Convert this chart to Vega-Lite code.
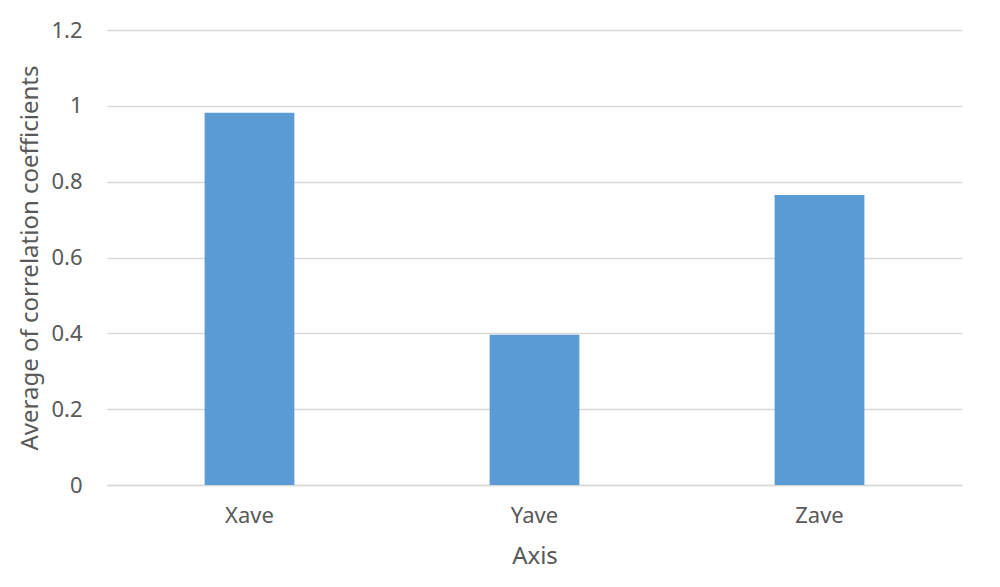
{
  "$schema": "https://vega.github.io/schema/vega-lite/v6.json",
  "width": 855,
  "height": 455,
  "autosize": "none",
  "padding": {"left": 107, "top": 30, "right": 38, "bottom": 102},
  "background": "white",
  "data": {
    "values": [
      {"axis": "Xave", "avg": 0.982},
      {"axis": "Yave", "avg": 0.396},
      {"axis": "Zave", "avg": 0.765}
    ]
  },
  "mark": {"type": "bar", "color": "#5b9bd5"},
  "encoding": {
    "x": {
      "field": "axis",
      "type": "nominal",
      "title": "Axis",
      "scale": {"paddingInner": 0.685, "paddingOuter": 0.3425},
      "axis": {
        "labelAngle": 0,
        "labelPadding": 20,
        "titlePadding": 18,
        "ticks": false,
        "domainColor": "#d9d9d9",
        "domainWidth": 1.5
      }
    },
    "y": {
      "field": "avg",
      "type": "quantitative",
      "title": "Average of correlation coefficients",
      "scale": {"domain": [0, 1.2]},
      "axis": {
        "values": [0, 0.2, 0.4, 0.6, 0.8, 1, 1.2],
        "format": "~g",
        "ticks": false,
        "domain": false,
        "labelPadding": 25,
        "titlePadding": 8,
        "gridColor": "#d9d9d9",
        "gridWidth": 1.5
      }
    }
  },
  "config": {
    "view": {"stroke": null},
    "axis": {
      "labelFont": "Noto Sans",
      "titleFont": "Noto Sans",
      "labelFontSize": 22,
      "titleFontSize": 24,
      "titleFontWeight": "normal",
      "labelColor": "#595959",
      "titleColor": "#595959"
    }
  }
}
